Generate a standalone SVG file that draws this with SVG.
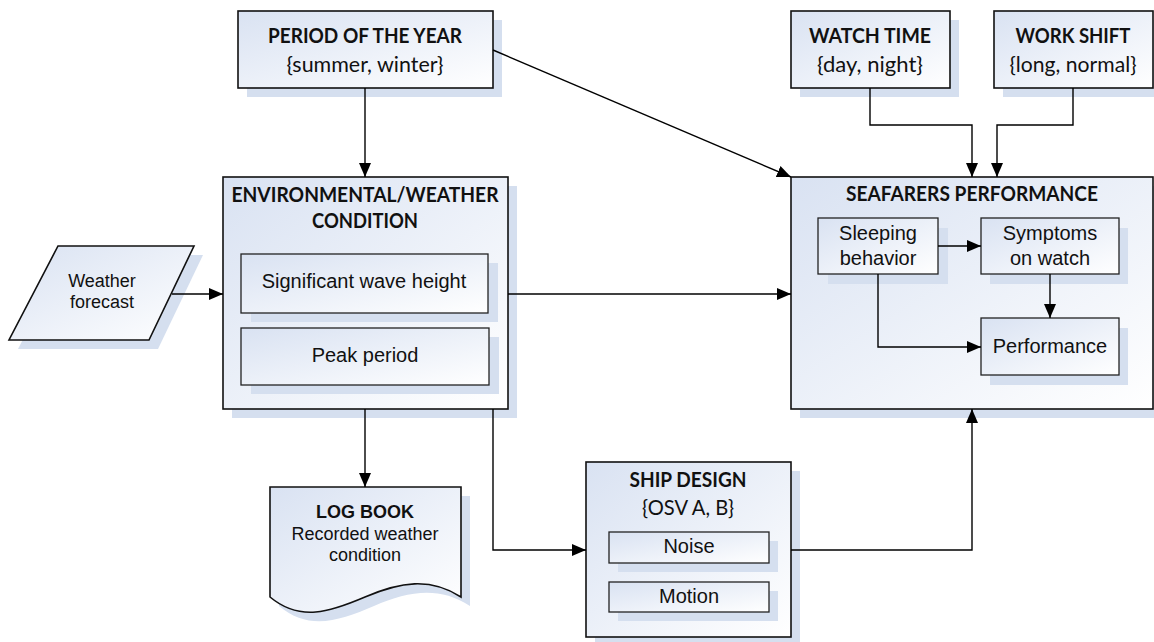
<svg xmlns="http://www.w3.org/2000/svg" width="1154" height="642" viewBox="0 0 1154 642">
<defs>
  <linearGradient id="fillGrad" x1="0" y1="0" x2="1" y2="1">
    <stop offset="0" stop-color="#d9e2f2"/>
    <stop offset="1" stop-color="#ffffff"/>
  </linearGradient>
  <marker id="arrow" viewBox="0 0 14 12" refX="14" refY="6" markerWidth="14" markerHeight="12" markerUnits="userSpaceOnUse" orient="auto">
    <path d="M0,0 L14,6 L0,12 z" fill="#000"/>
  </marker>
  <style>
    .shadow { fill: #d5dfef; stroke: none; }
    .box { fill: url(#fillGrad); stroke: #111; stroke-width: 1.6; }
    .inner { fill: url(#fillGrad); stroke: #222; stroke-width: 1.3; }
    .conn { fill: none; stroke: #000; stroke-width: 1.4; marker-end: url(#arrow); }
    .title { font-family: "Lato", "Liberation Sans", sans-serif; font-weight: bold; font-size: 21px; fill: #111; text-anchor: middle; }
    .sub { font-family: "Lato", "Liberation Sans", sans-serif; font-size: 21px; fill: #111; text-anchor: middle; }
    .lbl { font-family: "Liberation Sans", Arial, sans-serif; font-size: 20px; fill: #111; text-anchor: middle; }
    .lbl18 { font-family: "Liberation Sans", Arial, sans-serif; font-size: 18px; fill: #111; text-anchor: middle; }
    .lbl18b { font-family: "Liberation Sans", Arial, sans-serif; font-size: 18px; font-weight: bold; fill: #111; text-anchor: middle; }
  </style>
</defs>
<rect width="1154" height="642" fill="#ffffff"/>

<g id="period">
  <rect class="shadow" x="247" y="20" width="255" height="77"/>
  <rect class="box" x="238" y="11" width="255" height="77"/>
  <text class="title" x="365" y="43" textLength="194" lengthAdjust="spacingAndGlyphs">PERIOD OF THE YEAR</text>
  <text class="sub" x="365" y="72" textLength="157" lengthAdjust="spacingAndGlyphs">{summer, winter}</text>
</g>

<g id="watch">
  <rect class="shadow" x="800" y="20" width="159" height="77"/>
  <rect class="box" x="791" y="11" width="159" height="77"/>
  <text class="title" x="870" y="43" textLength="122" lengthAdjust="spacingAndGlyphs">WATCH TIME</text>
  <text class="sub" x="870" y="72" textLength="106" lengthAdjust="spacingAndGlyphs">{day, night}</text>
</g>

<g id="work">
  <rect class="shadow" x="1003" y="20" width="159" height="77"/>
  <rect class="box" x="994" y="11" width="159" height="77"/>
  <text class="title" x="1073" y="43" textLength="115" lengthAdjust="spacingAndGlyphs">WORK SHIFT</text>
  <text class="sub" x="1073" y="72" textLength="127" lengthAdjust="spacingAndGlyphs">{long, normal}</text>
</g>

<g id="weather">
  <polygon class="shadow" points="67,255 203,255 158,349 18,349"/>
  <polygon class="box" points="58,246 194,246 149,340 9,340"/>
  <text class="lbl18" x="102" y="287">Weather</text>
  <text class="lbl18" x="102" y="308">forecast</text>
</g>

<g id="environment">
  <rect class="shadow" x="232" y="186" width="285" height="232"/>
  <rect class="box" x="223" y="177" width="285" height="232"/>
  <text class="title" x="365" y="202" textLength="267" lengthAdjust="spacingAndGlyphs">ENVIRONMENTAL/WEATHER</text>
  <text class="title" x="365" y="228" textLength="106" lengthAdjust="spacingAndGlyphs">CONDITION</text>
  <g id="wave-height">
    <rect class="shadow" x="251" y="263" width="247" height="59"/>
    <rect class="inner" x="241" y="254" width="247" height="59"/>
    <text class="lbl" x="364" y="288">Significant wave height</text>
  </g>
  <g id="peak-period">
    <rect class="shadow" x="251" y="337" width="248" height="57"/>
    <rect class="inner" x="241" y="328" width="248" height="57"/>
    <text class="lbl" x="365" y="362">Peak period</text>
  </g>
</g>

<g id="logbook">
  <path class="shadow" d="M279,496 H470 V606 C439,586 409,591 374,606 C339,621 309,631 279,606 Z"/>
  <path class="box" d="M270,487 H461 V597 C430,577 400,582 365,597 C330,612 300,622 270,597 Z"/>
  <text class="lbl18b" x="365" y="518">LOG BOOK</text>
  <text class="lbl18" x="365" y="540">Recorded weather</text>
  <text class="lbl18" x="365" y="561">condition</text>
</g>

<g id="shipdesign">
  <rect class="shadow" x="595" y="471" width="205" height="175"/>
  <rect class="box" x="586" y="462" width="205" height="175"/>
  <text class="title" x="688" y="487" textLength="117" lengthAdjust="spacingAndGlyphs">SHIP DESIGN</text>
  <text class="sub" x="688" y="515" textLength="92" lengthAdjust="spacingAndGlyphs">{OSV A, B}</text>
  <g id="noise">
    <rect class="shadow" x="618" y="541" width="160" height="31"/>
    <rect class="inner" x="609" y="532" width="160" height="31"/>
    <text class="lbl" x="689" y="553">Noise</text>
  </g>
  <g id="motion">
    <rect class="shadow" x="618" y="591" width="160" height="30"/>
    <rect class="inner" x="609" y="582" width="160" height="30"/>
    <text class="lbl" x="689" y="603">Motion</text>
  </g>
</g>

<g id="seafarers">
  <rect class="shadow" x="800" y="186" width="362" height="232"/>
  <rect class="box" x="791" y="177" width="362" height="232"/>
  <text class="title" x="972" y="201" textLength="252" lengthAdjust="spacingAndGlyphs">SEAFARERS PERFORMANCE</text>
  <g id="sleeping">
    <rect class="shadow" x="828" y="228" width="120" height="56"/>
    <rect class="inner" x="818" y="218" width="120" height="56"/>
    <text class="lbl" x="878" y="240">Sleeping</text>
    <text class="lbl" x="878" y="265">behavior</text>
  </g>
  <g id="symptoms">
    <rect class="shadow" x="990" y="228" width="138" height="56"/>
    <rect class="inner" x="981" y="218" width="138" height="56"/>
    <text class="lbl" x="1050" y="240">Symptoms</text>
    <text class="lbl" x="1050" y="265">on watch</text>
  </g>
  <g id="performance">
    <rect class="shadow" x="990" y="328" width="138" height="57"/>
    <rect class="inner" x="981" y="318" width="138" height="57"/>
    <text class="lbl" x="1050" y="353">Performance</text>
  </g>
</g>

<g id="connectors">
  <path class="conn" d="M365,88 V177"/>
  <path class="conn" d="M493,50 L791,177"/>
  <path class="conn" d="M870,88 V125 H972 V177"/>
  <path class="conn" d="M1073,88 V125 H997 V177"/>
  <path class="conn" d="M172,294 H223"/>
  <path class="conn" d="M508,294 H791"/>
  <path class="conn" d="M365,409 V487"/>
  <path class="conn" d="M493,409 V550 H586"/>
  <path class="conn" d="M791,550 H972 V409"/>
  <path class="conn" d="M938,246 H981"/>
  <path class="conn" d="M1050,274 V318"/>
  <path class="conn" d="M878,274 V347 H981"/>
</g>
</svg>
